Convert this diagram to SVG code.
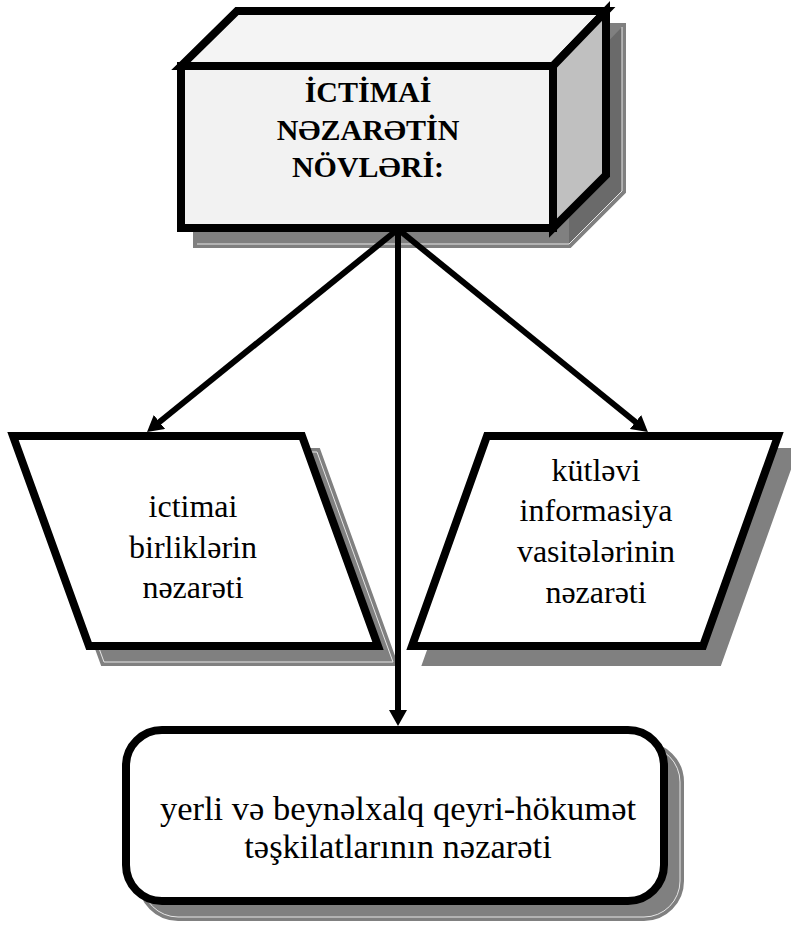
<svg xmlns="http://www.w3.org/2000/svg" width="791" height="930" viewBox="0 0 791 930">
<style>
.sh{fill:#808080;stroke:#808080;stroke-width:8;stroke-linejoin:miter}
.shl{fill:none;stroke:#e6e6e6;stroke-width:1}
.bx{stroke:#000;stroke-width:8;stroke-linejoin:miter}
.t{font-family:"Liberation Serif","DejaVu Serif",serif;font-size:32px;text-anchor:middle;fill:#000}
.tl{font-size:34.5px}
.tb{font-family:"Liberation Serif","DejaVu Serif",serif;font-size:30px;font-weight:bold;text-anchor:middle;fill:#000}
.ln{stroke:#000;stroke-width:6;fill:none}
</style>
<defs>
<marker id="ah" viewBox="0 0 16 18" markerWidth="16" markerHeight="18" refX="2" refY="9" orient="auto" markerUnits="userSpaceOnUse">
<path d="M0,0 L16,9 L0,18 z" fill="#000"/>
</marker>
</defs>
<rect width="791" height="930" fill="#fff"/>
<g id="node-top">
<polygon class="sh" points="197,82 253,27 622,27 622,191 569,244 197,244"/>
<polygon class="sh" style="fill:#6a6a6a;stroke:none" points="569,82 622,27 622,191 569,244"/>
<polyline class="shl" points="197,244 569,244 622,191 622,27"/>
<polygon class="bx" fill="#f4f4f4" points="181,66 237,11 606,11 553,66"/>
<polygon class="bx" fill="#c0c0c0" points="553,66 606,11 606,175 553,228"/>
<rect class="bx" fill="#f2f2f2" x="181" y="66" width="372" height="162"/>
<text class="tb" x="368" y="102">İCTİMAİ</text>
<text class="tb" x="368" y="140">NƏZARƏTİN</text>
<text class="tb" x="368" y="177">NÖVLƏRİ:</text>
</g>
<g id="node-left">
<polygon class="sh" points="28,452 317,452 393,662 104,662"/>
<polygon class="shl" points="28,452 317,452 393,662 104,662"/>
<polygon class="bx" fill="#fff" points="13,436 302,436 378,646 89,646"/>
<text class="t" x="193" y="517">ictimai</text>
<text class="t" x="193" y="558">birliklərin</text>
<text class="t" x="193" y="598">nəzarəti</text>
</g>
<g id="node-right">
<polygon class="sh" points="502,452 793,452 718,662 427,662"/>
<polygon class="bx" fill="#fff" points="487,436 778,436 703,646 412,646"/>
<text class="t" x="596" y="481">kütləvi</text>
<text class="t" x="596" y="521">informasiya</text>
<text class="t" x="596" y="562">vasitələrinin</text>
<text class="t" x="596" y="603">nəzarəti</text>
</g>
<g id="node-bottom">
<rect class="sh" x="142" y="746" width="538" height="171" rx="36"/>
<rect class="shl" x="142" y="746" width="538" height="171" rx="36"/>
<rect class="bx" fill="#fff" x="126" y="730" width="538" height="171" rx="36"/>
<text class="t tl" x="398" y="820">yerli və beynəlxalq qeyri-hökumət</text>
<text class="t tl" x="398" y="858">təşkilatlarının nəzarəti</text>
</g>
<g id="connectors">
<line class="ln" x1="397" y1="230" x2="157.9" y2="423.25" marker-end="url(#ah)"/>
<line class="ln" x1="398" y1="230" x2="398" y2="712" marker-end="url(#ah)"/>
<line class="ln" x1="399" y1="230" x2="637.05" y2="423.27" marker-end="url(#ah)"/>
</g>
</svg>
